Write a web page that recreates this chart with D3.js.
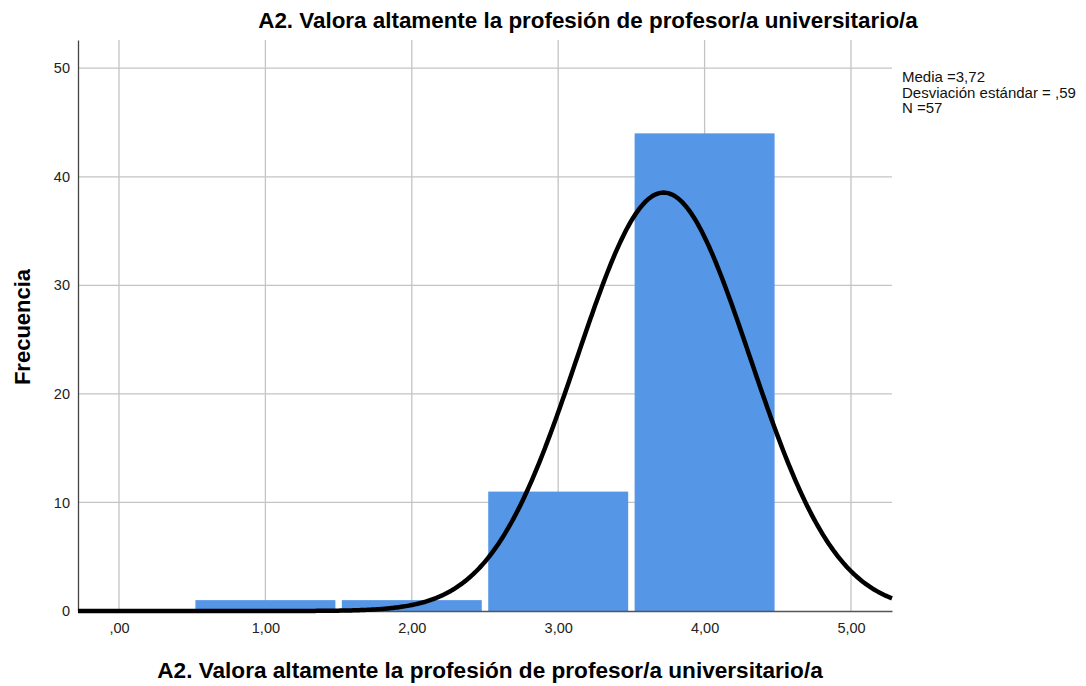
<!DOCTYPE html>
<html lang="es">
<head>
<meta charset="UTF-8">
<title>A2 histograma</title>
<script src="https://d3js.org/d3.v7.min.js"></script>
<style>
  body { margin: 0; background: #fff; font-family: 'Liberation Sans', Arial, sans-serif; }
  .grid line { stroke: #c4c4c4; stroke-width: 1.3px; }
  .tick text { font-size: 14.5px; fill: #222; }
</style>
</head>
<body>
<script>
// datos del histograma
var categories = [1, 2, 3, 4];
var counts = [1, 1, 11, 44];
var xTicks = [0, 1, 2, 3, 4, 5];
var yTicks = [0, 10, 20, 30, 40, 50];
var stats = { media: 3.72, sd: 0.59, n: 57 };
var legendLines = ["Media =3,72", "Desviación estándar = ,59", "N =57"];

var width = 1086, height = 686;
var mLeft = 78, mRight = 892, mTop = 40, mBottom = 611;

var svg = d3.select("body").append("svg")
    .attr("width", width)
    .attr("height", height);

var x = d3.scaleLinear().domain([-0.28, 5.28]).range([mLeft, mRight]);
var y = d3.scaleLinear().domain([0, 52.6]).range([mBottom, mTop]);

var fmt = function(d) { return d === 0 ? ",00" : d3.format(".2f")(d).replace(".", ","); };

// gridlines
var grid = svg.append("g").attr("class", "grid");
grid.selectAll("line.v").data(xTicks).enter().append("line")
    .attr("x1", function(d) { return x(d); }).attr("x2", function(d) { return x(d); })
    .attr("y1", mTop).attr("y2", mBottom);
grid.selectAll("line.h").data(yTicks.slice(1)).enter().append("line")
    .attr("x1", mLeft).attr("x2", mRight)
    .attr("y1", function(d) { return y(d); }).attr("y2", function(d) { return y(d); });

// bars
svg.append("g").selectAll("rect").data(categories).enter().append("rect")
    .attr("x", function(d) { return x(d - 0.478); })
    .attr("width", function(d) { return x(d + 0.478) - x(d - 0.478); })
    .attr("y", function(d, i) { return y(counts[i]); })
    .attr("height", function(d, i) { return y(0) - y(counts[i]); })
    .attr("fill", "#5596e6");

// axes
var xAxis = svg.append("g").attr("transform", "translate(0," + mBottom + ")")
    .call(d3.axisBottom(x).tickValues(xTicks).tickFormat(fmt).tickSize(0).tickPadding(12));
xAxis.select(".domain").attr("stroke", "#555").attr("stroke-width", 1.5);

var yAxis = svg.append("g").attr("transform", "translate(" + mLeft + ",0)")
    .call(d3.axisLeft(y).tickValues(yTicks).tickSize(0).tickPadding(8));
yAxis.select(".domain").attr("stroke", "#444").attr("stroke-width", 1.3);

// normal curve
var pdf = function(v) {
    return stats.n * Math.exp(-0.5 * Math.pow((v - stats.media) / stats.sd, 2)) / (stats.sd * Math.sqrt(2 * Math.PI));
};
var pts = d3.range(-0.28, 5.2801, 0.01).map(function(v) { return [v, pdf(v)]; });
svg.append("path")
    .datum(pts)
    .attr("fill", "none")
    .attr("stroke", "#000")
    .attr("stroke-width", 4.5)
    .attr("d", d3.line().x(function(d) { return x(d[0]); }).y(function(d) { return y(d[1]); }));

// titles
svg.append("text")
    .attr("x", 588).attr("y", 28)
    .attr("text-anchor", "middle")
    .attr("font-size", "22.4px").attr("font-weight", "bold")
    .text("A2. Valora altamente la profesión de profesor/a universitario/a");

svg.append("text")
    .attr("x", 490).attr("y", 678)
    .attr("text-anchor", "middle")
    .attr("font-size", "22.6px").attr("font-weight", "bold")
    .text("A2. Valora altamente la profesión de profesor/a universitario/a");

svg.append("text")
    .attr("transform", "translate(30," + 327 + ") rotate(-90)")
    .attr("text-anchor", "middle")
    .attr("font-size", "22px").attr("font-weight", "bold")
    .text("Frecuencia");

// legend
svg.append("g").selectAll("text").data(legendLines).enter().append("text")
    .attr("x", 902)
    .attr("y", function(d, i) { return 82 + i * 15.5; })
    .attr("font-size", "15px").attr("fill", "#111")
    .text(function(d) { return d; });
</script>
</body>
</html>
